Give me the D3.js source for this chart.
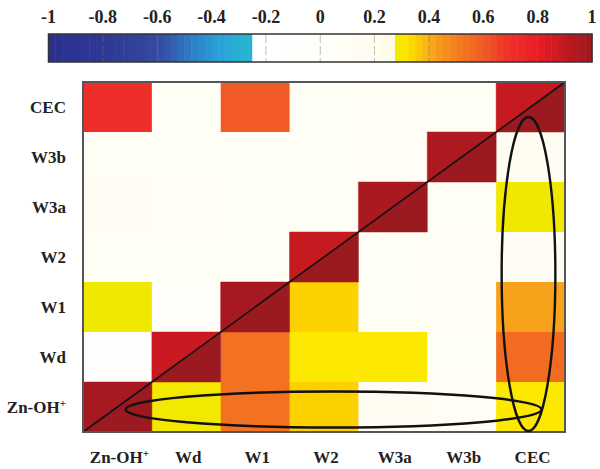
<!DOCTYPE html>
<html>
<head>
<meta charset="utf-8">
<script src="https://cdn.jsdelivr.net/npm/d3@7"></script>
<style>
  body { margin: 0; background: #fff; }
  svg text { font-family: "Liberation Serif", "Times New Roman", serif; font-weight: bold; fill: #222; }
</style>
</head>
<body>
<svg id="chart" width="600" height="469"></svg>
<script>
// categories
const rowLabels = ["CEC", "W3b", "W3a", "W2", "W1", "Wd", "Zn-OH+"];
const colLabels = ["Zn-OH+", "Wd", "W1", "W2", "W3a", "W3b", "CEC"];

// correlation values, rows top to bottom, null on the diagonal
const values = [
    [0.70, 0.10, 0.60, 0.10, 0.12, 0.10, null],
    [0.10, 0.10, 0.10, 0.08, 0.12, null, 0.16],
    [0.14, 0.12, 0.10, 0.10, null, 0.10, 0.285],
    [0.10, 0.10, 0.10, null, 0.10, 0.12, 0.15],
    [0.285, 0.05, null, 0.35, 0.10, 0.12, 0.42],
    [-0.10, null, 0.54, 0.31, 0.31, 0.10, 0.56],
    [null, 0.29, 0.54, 0.35, 0.18, 0.12, 0.31]
];
// diagonal cells: upper-left half and lower-right half (by column)
const diagUpper = [0.97, 0.88, 0.97, 0.89, 0.96, 0.95, 0.89];
const diagLower = [1, 1, 1, 1, 1, 1, 1];

// colour bar
const barTicks = [-1, -0.8, -0.6, -0.4, -0.2, 0, 0.2, 0.4, 0.6, 0.8, 1];
const colorStops = [-1, -0.8, -0.6, -0.4, -0.2501, -0.25, 0, 0.2, 0.279, 0.28, 0.31, 0.35, 0.42, 0.5, 0.56, 0.6, 0.7, 0.8, 0.9, 1];
const colorRange = ["#2b2f8f", "#2e3894", "#35499f", "#2a9ad8", "#27b8d0", "#ffffff", "#fffefa", "#fffdf0", "#fcfae2",
    "#eee800", "#fde900", "#fdd000", "#f8a11b", "#f47d20", "#f26b21", "#f15a24", "#ee2e29", "#ea1d24", "#c2181f", "#9a1a20"];

const svg = d3.select("#chart");
const color = d3.scaleLinear().domain(colorStops).range(colorRange).clamp(true);

// ===== colour bar =====
const cb = { x0: 48.5, x1: 592, y: 34, h: 28 };
const cbScale = d3.scaleLinear().domain([-1, 1]).range([cb.x0, cb.x1]);
const stripes = d3.range(-1, 1, 0.025);
svg.append("g").selectAll("rect")
    .data(stripes)
    .join("rect")
    .attr("x", d => cbScale(d))
    .attr("y", cb.y)
    .attr("width", cbScale(0.025) - cbScale(0) + 0.5)
    .attr("height", cb.h)
    .attr("fill", d => color(d + 0.0125));

svg.append("g").selectAll("line")
    .data(barTicks.slice(1, -1))
    .join("line")
    .attr("x1", d => cbScale(d)).attr("x2", d => cbScale(d))
    .attr("y1", cb.y).attr("y2", cb.y + cb.h)
    .attr("stroke", "#777")
    .attr("stroke-width", 0.8)
    .attr("stroke-dasharray", "9,3")
    .attr("opacity", 0.6);

svg.append("rect")
    .attr("x", cb.x0).attr("y", cb.y)
    .attr("width", cb.x1 - cb.x0).attr("height", cb.h)
    .attr("fill", "none")
    .attr("stroke", "#333")
    .attr("stroke-width", 1.5);

svg.append("g").selectAll("text")
    .data(barTicks)
    .join("text")
    .attr("x", d => cbScale(d))
    .attr("y", 23)
    .attr("text-anchor", "middle")
    .style("font-size", "18px")
    .text(d => String(d));

// ===== heat map =====
const plot = { left: 83, right: 565, top: 82, bottom: 432 };
const x = d3.scaleBand().domain(colLabels).range([plot.left, plot.right]);
const y = d3.scaleBand().domain(rowLabels).range([plot.top, plot.bottom]);

const cells = [];
values.forEach((row, r) => row.forEach((v, c) => {
    if (v !== null) cells.push({ row: rowLabels[r], col: colLabels[c], v: v });
}));

svg.append("g").selectAll("rect")
    .data(cells)
    .join("rect")
    .attr("x", d => x(d.col))
    .attr("y", d => y(d.row))
    .attr("width", x.bandwidth() + 0.5)
    .attr("height", y.bandwidth() + 0.5)
    .attr("fill", d => color(d.v));

// diagonal cells split in two triangles along the main diagonal
const diag = svg.append("g");
colLabels.forEach((c, i) => {
    const r = rowLabels[rowLabels.length - 1 - i];
    const x0 = x(c), x1 = x(c) + x.bandwidth();
    const y0 = y(r), y1 = y(r) + y.bandwidth();
    diag.append("path")
        .attr("d", `M${x0},${y1}L${x0},${y0}L${x1},${y0}Z`)
        .attr("fill", color(diagUpper[i]))
        .attr("stroke", color(diagUpper[i])).attr("stroke-width", 0.5);
    diag.append("path")
        .attr("d", `M${x0},${y1}L${x1},${y1}L${x1},${y0}Z`)
        .attr("fill", color(diagLower[i]))
        .attr("stroke", color(diagLower[i])).attr("stroke-width", 0.5);
});

svg.append("line")
    .attr("x1", plot.left).attr("y1", plot.bottom)
    .attr("x2", plot.right).attr("y2", plot.top)
    .attr("stroke", "#111")
    .attr("stroke-width", 1.6);

svg.append("rect")
    .attr("x", plot.left).attr("y", plot.top)
    .attr("width", plot.right - plot.left).attr("height", plot.bottom - plot.top)
    .attr("fill", "none")
    .attr("stroke", "#555")
    .attr("stroke-width", 2);

// ellipses around the Zn-OH+ row and the CEC column
const bottomRow = rowLabels[rowLabels.length - 1];
const hx0 = x(colLabels[0]) + x.bandwidth() * 0.62;
const hx1 = x("CEC") + x.bandwidth() * 0.66;
svg.append("ellipse")
    .attr("cx", (hx0 + hx1) / 2)
    .attr("cy", y(bottomRow) + y.bandwidth() * 0.55)
    .attr("rx", (hx1 - hx0) / 2)
    .attr("ry", y.bandwidth() * 0.36)
    .attr("fill", "none")
    .attr("stroke", "#111")
    .attr("stroke-width", 2.4);

const vy0 = y("CEC") + y.bandwidth() * 0.7;
const vy1 = plot.bottom - 1;
svg.append("ellipse")
    .attr("cx", x("CEC") + x.bandwidth() * 0.47)
    .attr("cy", (vy0 + vy1) / 2)
    .attr("rx", x.bandwidth() * 0.39)
    .attr("ry", (vy1 - vy0) / 2)
    .attr("fill", "none")
    .attr("stroke", "#111")
    .attr("stroke-width", 2.4);

// axis labels
const labelText = (sel, s) => {
    if (s.endsWith("+")) {
        sel.text(s.slice(0, -1));
        sel.append("tspan").attr("dy", -6).style("font-size", "11px").text("+");
    } else {
        sel.text(s);
    }
};

svg.append("g").selectAll("text")
    .data(rowLabels)
    .join("text")
    .attr("x", 66)
    .attr("y", d => y(d) + y.bandwidth() / 2 + 6)
    .attr("text-anchor", "end")
    .style("font-size", "17px")
    .each(function (d) { labelText(d3.select(this), d); });

svg.append("g").selectAll("text")
    .data(colLabels)
    .join("text")
    .attr("x", d => x(d) + x.bandwidth() / 2 + 2)
    .attr("y", 463)
    .attr("text-anchor", "middle")
    .style("font-size", "17px")
    .each(function (d) { labelText(d3.select(this), d); });
</script>
</body>
</html>
